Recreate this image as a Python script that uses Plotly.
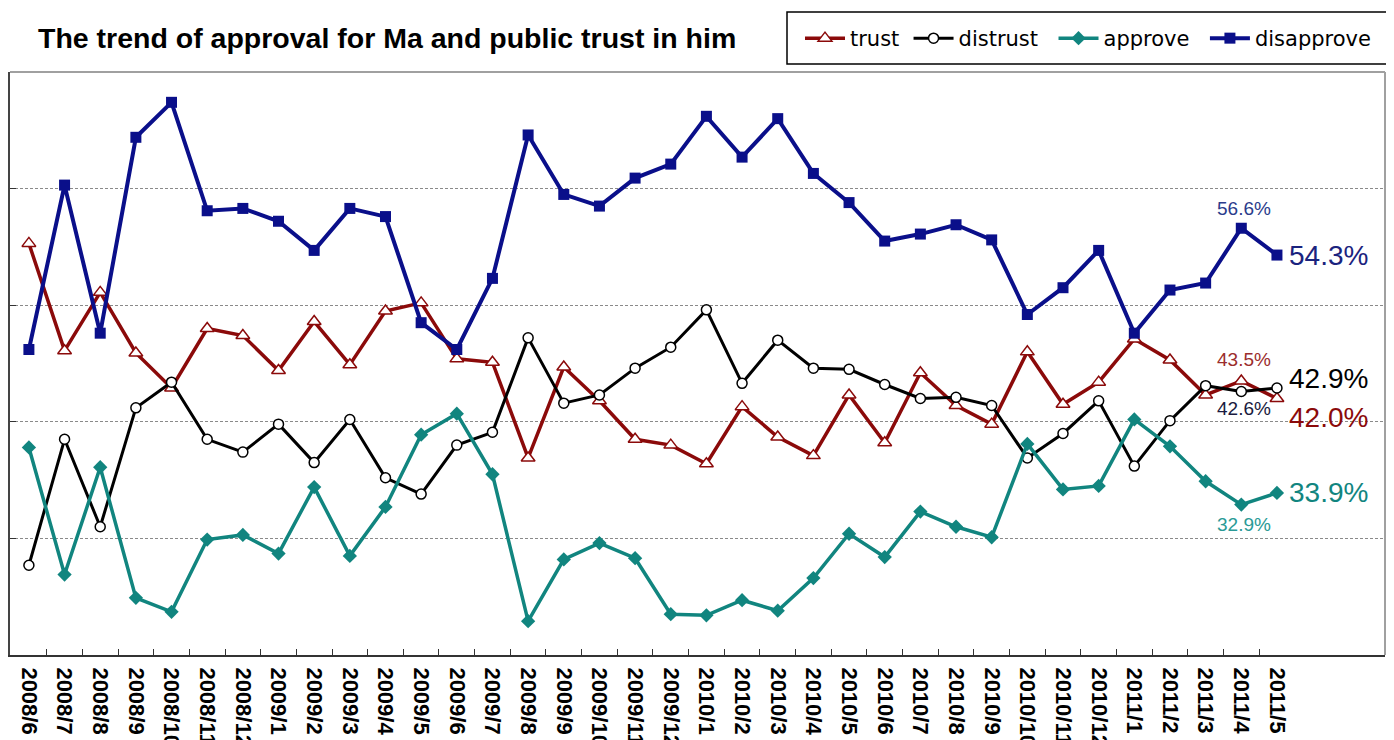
import plotly.graph_objects as go

months = ["2008/6", "2008/7", "2008/8", "2008/9", "2008/10", "2008/11", "2008/12",
          "2009/1", "2009/2", "2009/3", "2009/4", "2009/5", "2009/6", "2009/7", "2009/8",
          "2009/9", "2009/10", "2009/11", "2009/12", "2010/1", "2010/2", "2010/3", "2010/4",
          "2010/5", "2010/6", "2010/7", "2010/8", "2010/9", "2010/10", "2010/11", "2010/12",
          "2011/1", "2011/2", "2011/3", "2011/4", "2011/5"]

trust = [55.3, 46.1, 51.1, 45.9, 42.9, 48.0, 47.4, 44.4, 48.6, 44.9, 49.5, 50.2, 45.4,
         45.1, 36.9, 44.7, 41.8, 38.5, 38.0, 36.4, 41.3, 38.7, 37.1, 42.3, 38.2, 44.2,
         41.4, 39.8, 46.0, 41.5, 43.4, 47.1, 45.3, 42.3, 43.5, 42.0]
distrust = [27.7, 38.5, 31.0, 41.2, 43.4, 38.5, 37.4, 39.8, 36.5, 40.2, 35.2, 33.8, 38.0,
            39.1, 47.2, 41.6, 42.3, 44.6, 46.4, 49.6, 43.3, 47.0, 44.6, 44.5, 43.2, 42.0,
            42.1, 41.4, 36.9, 39.0, 41.8, 36.2, 40.1, 43.1, 42.6, 42.9]
approve = [37.8, 26.9, 36.1, 24.9, 23.7, 29.9, 30.3, 28.7, 34.4, 28.5, 32.7, 38.9, 40.7,
           35.5, 22.9, 28.2, 29.6, 28.3, 23.5, 23.4, 24.7, 23.8, 26.6, 30.4, 28.4, 32.3,
           31.0, 30.1, 38.1, 34.2, 34.5, 40.2, 37.9, 34.9, 32.9, 33.9]
disapprove = [46.2, 60.3, 47.6, 64.4, 67.4, 58.1, 58.3, 57.2, 54.7, 58.3, 57.6, 48.5, 46.2,
              52.3, 64.6, 59.5, 58.5, 60.9, 62.1, 66.2, 62.7, 66.0, 61.3, 58.8, 55.5, 56.1,
              56.9, 55.6, 49.2, 51.5, 54.7, 47.6, 51.3, 51.9, 56.6, 54.3]

grid_vals = [30, 40, 50, 60]
y_range = [20, 70]
x_range = [-0.53, 38.03]

C_TRUST = "#8B0A0A"
C_DISTRUST = "#000000"
C_APPROVE = "#11857F"
C_DISAPPROVE = "#0A0F8A"

# page body has an 8px margin; figure is sized so that page coordinates match
W, H = 1386, 732
PL, PT, PR, PB = 2, 64, 1377, 647          # plot area in figure pixels
PW, PH = PR - PL, PB - PT


def px_to_paper(fx, fy):
    return (fx - PL) / PW, (PB - fy) / PH


idx = list(range(len(months)))

fig = go.Figure()
fig.add_trace(go.Scatter(
    x=idx, y=trust, name="trust\u2009", mode="lines+markers",
    line=dict(color=C_TRUST, width=3.5),
    marker=dict(symbol="triangle-up", size=12, color="white",
                line=dict(color=C_TRUST, width=1.5))))
fig.add_trace(go.Scatter(
    x=idx, y=distrust, name="distrust\u2002", mode="lines+markers",
    line=dict(color=C_DISTRUST, width=3),
    marker=dict(symbol="circle", size=10, color="white",
                line=dict(color=C_DISTRUST, width=1.5))))
fig.add_trace(go.Scatter(
    x=idx, y=approve, name="approve\u2002", mode="lines+markers",
    line=dict(color=C_APPROVE, width=3.5),
    marker=dict(symbol="diamond", size=11, color=C_APPROVE)))
fig.add_trace(go.Scatter(
    x=idx, y=disapprove, name="disapprove", mode="lines+markers",
    line=dict(color=C_DISAPPROVE, width=4),
    marker=dict(symbol="square", size=11, color=C_DISAPPROVE)))

last = len(months) - 1
prev = last - 1
big = dict(family="Arial", size=28)
small = dict(family="Arial", size=19)
ann = []
for series, col, ys in [(disapprove, "#1A237E", 0), (distrust, "#000000", 9),
                        (trust, "#8B0A0A", -19), (approve, "#11857F", 0)]:
    ann.append(dict(x=last, y=series[last], text=f"{series[last]:.1f}%", showarrow=False,
                    xanchor="left", yanchor="middle", xshift=10, yshift=ys,
                    font=dict(color=col, **big)))
for series, col, ys in [(disapprove, "#2B3C8C", 20), (trust, "#9B2D2D", 21),
                        (distrust, "#1A1A40", -17), (approve, "#2A9A96", -20)]:
    ann.append(dict(x=prev, y=series[prev], text=f"{series[prev]:.1f}%", showarrow=False,
                    xanchor="center", yanchor="middle", xshift=3, yshift=ys,
                    font=dict(color=col, **small)))

lx, ly = px_to_paper(792, 10)
fig.update_layout(
    width=W, height=H,
    margin=dict(l=PL, r=W - PR, t=PT, b=H - PB, autoexpand=False),
    paper_bgcolor="white", plot_bgcolor="white",
    title=dict(text="<b>The trend of approval for Ma and public trust in him</b>",
               x=30 / W, xanchor="left", xref="container",
               y=1 - 30 / H, yanchor="middle",
               font=dict(family="Arial", size=28.5, color="black")),
    legend=dict(orientation="h", x=lx, xanchor="left", y=ly, yanchor="top",
                borderwidth=0, bgcolor="rgba(0,0,0,0)",
                font=dict(family="DejaVu Sans", size=21, color="black"),
                itemwidth=40, tracegroupgap=0),
    annotations=ann,
    showlegend=True,
)

fig.update_xaxes(
    range=x_range, tickmode="array", tickvals=idx, ticktext=months,
    tickangle=90, ticks="", showgrid=False, zeroline=False,
    tickfont=dict(family="Arial", size=22, color="black", weight="bold"),
    ticklabelstandoff=6,
    showline=True, linecolor="#333333", linewidth=2,
    minor=dict(tickmode="array", tickvals=[i + 0.5 for i in idx[:-1]],
               ticks="inside", ticklen=6, tickwidth=1, tickcolor="#333333", showgrid=False),
)
fig.update_yaxes(
    range=y_range, tickmode="array", tickvals=grid_vals, showticklabels=False,
    ticks="inside", ticklen=6, tickcolor="#333333",
    showgrid=True, gridcolor="#8a8a8a", gridwidth=1, griddash="3px,2px",
    zeroline=False, showline=True, linecolor="#444444", linewidth=2,
)

# light frame on top and right of plot area
fig.add_shape(type="line", xref="paper", yref="paper", x0=0, x1=1, y0=1, y1=1,
              line=dict(color="#a0a0a0", width=2))
fig.add_shape(type="line", xref="paper", yref="paper", x0=1, x1=1, y0=0, y1=1,
              line=dict(color="#a0a0a0", width=2))
# legend frame
bx0, by0 = px_to_paper(779, 56)
bx1, by1 = px_to_paper(1379, 4)
fig.add_shape(type="rect", xref="paper", yref="paper", x0=bx0, x1=bx1, y0=by0, y1=by1,
              line=dict(color="black", width=1.5), fillcolor="rgba(0,0,0,0)")

fig.write_html("out.html")
